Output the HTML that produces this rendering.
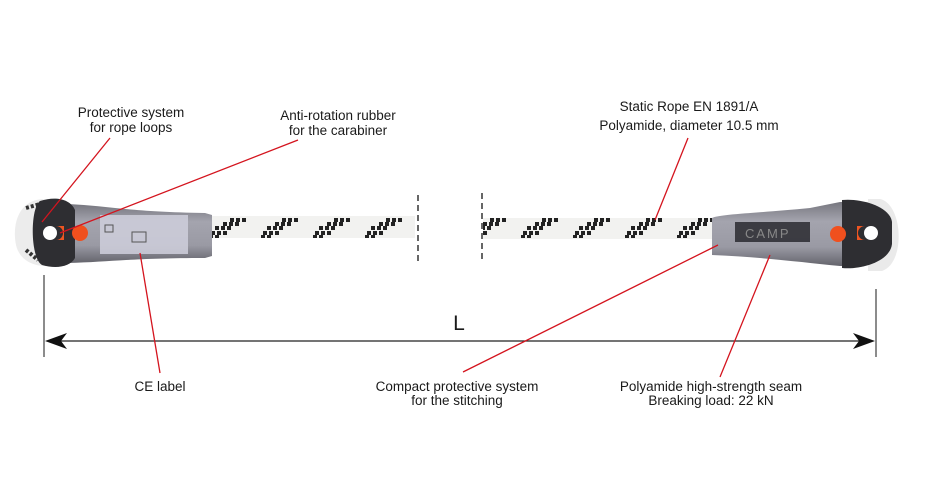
<!DOCTYPE html>
<html><head><meta charset="utf-8"><style>
html,body{margin:0;padding:0;background:#fff;}
svg{display:block}
text{font-family:"Liberation Sans",sans-serif;font-size:13.5px;fill:#1a1a1a;}
</style></head><body>
<svg width="931" height="487" viewBox="0 0 931 487" xmlns="http://www.w3.org/2000/svg">
<defs>
<pattern id="rope" width="52" height="22" patternUnits="userSpaceOnUse" x="0" y="216">
<rect width="52" height="22" fill="#f2f2f0"/>
<g fill="#222">
<rect x="3" y="15" width="4" height="4"/><rect x="9" y="15" width="4" height="4"/><rect x="15" y="15" width="4" height="4"/>
<rect x="7" y="10" width="4" height="4"/><rect x="13" y="10" width="4" height="4"/><rect x="19" y="10" width="4" height="4"/>
<rect x="15" y="6" width="4" height="4"/><rect x="21" y="6" width="4" height="4"/><rect x="27" y="6" width="4" height="4"/>
<rect x="22" y="2" width="4" height="4"/><rect x="28" y="2" width="4" height="4"/><rect x="34" y="2" width="4" height="4"/>
<rect x="1" y="19" width="4" height="3"/><rect x="7" y="19" width="4" height="3"/>
</g>
</pattern>
<linearGradient id="sl" x1="0" y1="0" x2="0" y2="1">
<stop offset="0" stop-color="#77777f"/><stop offset="0.3" stop-color="#a4a4ae"/><stop offset="0.7" stop-color="#9a9aa4"/><stop offset="1" stop-color="#64646c"/>
</linearGradient>
</defs>

<rect x="205" y="216" width="210" height="22" fill="url(#rope)"/>
<line x1="418" y1="195" x2="418" y2="262" stroke="#333" stroke-width="1.5" stroke-dasharray="6,4"/>
<rect x="483" y="218" width="230" height="21" fill="url(#rope)"/>
<line x1="482" y1="193" x2="482" y2="262" stroke="#333" stroke-width="1.5" stroke-dasharray="6,4"/>

<!-- left end -->
<path d="M42,199 C18,201 12,225 16,245 C20,263 40,270 60,264 L60,202 Z" fill="#ececec"/>
<path d="M26,208 L40,204 M26,250 L38,260" stroke="#333" stroke-width="4" stroke-dasharray="3,2"/>
<path d="M68,204 C110,206 130,212 205,213 L212,215 L212,256 L205,258 C130,258 110,262 68,263 Z" fill="url(#sl)"/>
<rect x="100" y="215" width="88" height="39" fill="#cfcfdc" opacity="0.85"/>
<g><rect x="105" y="225" width="8" height="7" fill="none" stroke="#555"/><rect x="132" y="232" width="14" height="10" fill="none" stroke="#555"/></g>
<path d="M40,201 C56,196 70,199 75,210 L75,258 C70,267 56,269 42,265 C30,258 30,208 40,201 Z" fill="#2e2e32"/>
<circle cx="50" cy="233" r="7" fill="#fff"/>
<path d="M56,226 L64,226 L64,240 L56,240 A7,7 0 0 0 56,226 Z" fill="#ee5522"/>
<circle cx="80" cy="233" r="8" fill="#f0501e"/>

<!-- right end -->
<path d="M712,218 C720,214 760,213 810,208 L840,202 L848,202 L848,266 L840,266 C800,262 760,257 712,255 Z" fill="url(#sl)"/>
<rect x="735" y="222" width="75" height="20" fill="#2a2a30" opacity="0.85"/>
<text x="745" y="238" style="font-size:13px;fill:#888;letter-spacing:2px">CAMP</text>
<path d="M880,199 C903,204 906,263 882,271 L868,271 L868,199 Z" fill="#eaeaea"/>
<path d="M842,200 C860,198 890,206 892,222 L892,244 C890,262 860,270 842,268 Z" fill="#2e2e32"/>
<circle cx="871" cy="233" r="7" fill="#fff"/>
<path d="M865,226 L857,226 L857,240 L865,240 A7,7 0 0 1 865,226 Z" fill="#ee5522"/>
<circle cx="838" cy="234" r="8" fill="#f0501e"/>

<!-- dimension -->
<line x1="44" y1="275" x2="44" y2="357" stroke="#666" stroke-width="1.5"/>
<line x1="876" y1="289" x2="876" y2="357" stroke="#666" stroke-width="1.5"/>
<line x1="50" y1="341" x2="870" y2="341" stroke="#222" stroke-width="1.2"/>
<path d="M45,341 L67,333 L61,341 L67,349 Z" fill="#111"/>
<path d="M875,341 L853,333 L859,341 L853,349 Z" fill="#111"/>
<text x="459" y="330" text-anchor="middle" style="font-size:21px">L</text>

<g stroke="#d4141e" stroke-width="1.3">
<line x1="110" y1="138" x2="42" y2="222"/>
<line x1="298" y1="140" x2="60" y2="233"/>
<line x1="140" y1="253" x2="160" y2="373"/>
<line x1="688" y1="138" x2="655" y2="220"/>
<line x1="463" y1="372" x2="718" y2="245"/>
<line x1="720" y1="377" x2="770" y2="255"/>
</g>

<g text-anchor="middle">
<text x="131" y="117">Protective system</text>
<text x="131" y="132">for rope loops</text>
<text x="338" y="120">Anti-rotation rubber</text>
<text x="338" y="135">for the carabiner</text>
<text x="689" y="111">Static Rope EN 1891/A</text>
<text x="689" y="130">Polyamide, diameter 10.5 mm</text>
<text x="160" y="391">CE label</text>
<text x="457" y="391">Compact protective system</text>
<text x="457" y="405">for the stitching</text>
<text x="711" y="391">Polyamide high-strength seam</text>
<text x="711" y="405">Breaking load: 22 kN</text>
</g>
</svg>
</body></html>
